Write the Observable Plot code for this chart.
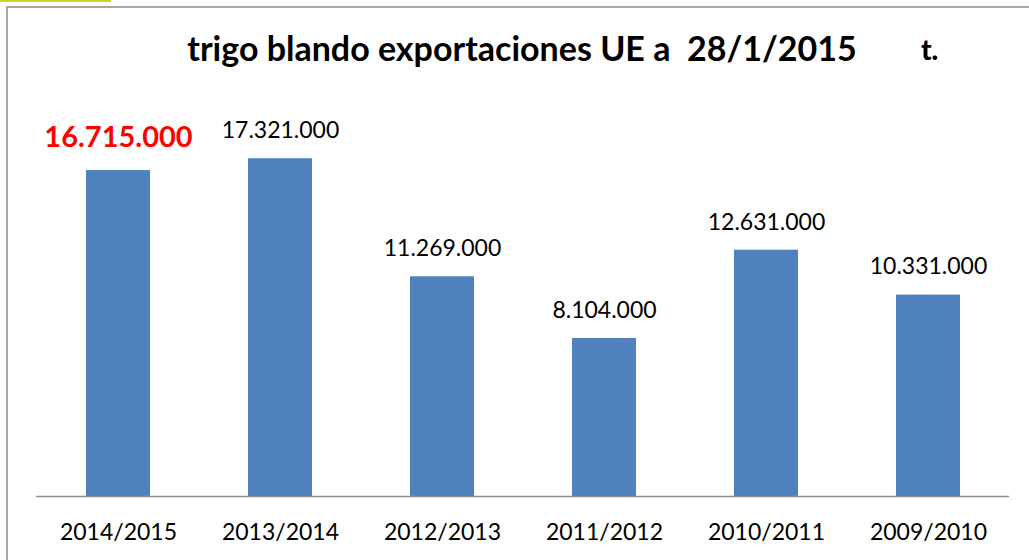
<!DOCTYPE html>
<html>
<head>
<meta charset="utf-8">
<script src="https://cdn.jsdelivr.net/npm/d3@7"></script>
<script src="https://cdn.jsdelivr.net/npm/@observablehq/plot@0.6"></script>
<style>
  html, body { margin: 0; padding: 0; background: #fff; }
  #wrap { position: relative; width: 1029px; height: 560px; overflow: hidden; font-family: Lato, "Liberation Sans", sans-serif; }
  #frame { position: absolute; left: 6px; top: 6px; width: 1040px; height: 600px; border: 2px solid #a6a6a6; box-sizing: border-box; }
  #mark { position: absolute; left: 0; top: 0; width: 111px; height: 2px; background: #cdd432; }
  #title { position: absolute; left: 0; width: 1044px; top: 27px; text-align: center; font-weight: bold; font-size: 34px; color: #000; white-space: pre; }
  #unit { position: absolute; left: 921px; top: 32px; font-weight: 900; font-size: 28px; color: #000; }
  #chart { position: absolute; left: 0; top: 0; }
</style>
</head>
<body>
<div id="wrap">
  <div id="mark"></div>
  <div id="frame"></div>
  <div id="title">trigo blando exportaciones UE a  28/1/2015</div>
  <div id="unit">t.</div>
  <div id="chart"></div>
</div>
<script>
const campaigns = ["2014/2015", "2013/2014", "2012/2013", "2011/2012", "2010/2011", "2009/2010"];
const exportsT = [16715000, 17321000, 11269000, 8104000, 12631000, 10331000];
const valueLabels = ["16.715.000", "17.321.000", "11.269.000", "8.104.000", "12.631.000", "10.331.000"];
const highlighted = ["2014/2015"];

const data = campaigns.map((c, i) => ({campaign: c, value: exportsT[i], label: valueLabels[i], hi: highlighted.includes(c)}));
const normal = data.filter(d => !d.hi);
const hot = data.filter(d => d.hi);

const chart = Plot.plot({
  width: 1029,
  height: 560,
  marginTop: 106,
  marginBottom: 64,
  marginLeft: 36,
  marginRight: 20,
  style: {background: "transparent", fontFamily: "Lato, 'Liberation Sans', sans-serif", overflow: "visible"},
  x: {domain: campaigns, paddingInner: 0.605, paddingOuter: 0.3025, label: null, tickSize: 0, tickPadding: 0},
  y: {domain: [0, 20000000], axis: null},
  marks: [
    Plot.barY(data, {x: "campaign", y: "value", fill: "#4f81bd"}),
    Plot.ruleY([0], {stroke: "#8c8c8c", strokeWidth: 1.5}),
    Plot.text(normal, {x: "campaign", y: "value", text: "label", dy: -28, fontSize: 23, fill: "#000"}),
    Plot.text(hot, {x: "campaign", y: "value", text: "label", dy: -33, fontSize: 29, fontWeight: "bold", fill: "#ff0000"}),
    Plot.axisX({tickSize: 0, tickPadding: 0, dy: 27, fontSize: 23, fill: "#000", label: null})
  ]
});
document.getElementById("chart").appendChild(chart);
</script>
</body>
</html>
